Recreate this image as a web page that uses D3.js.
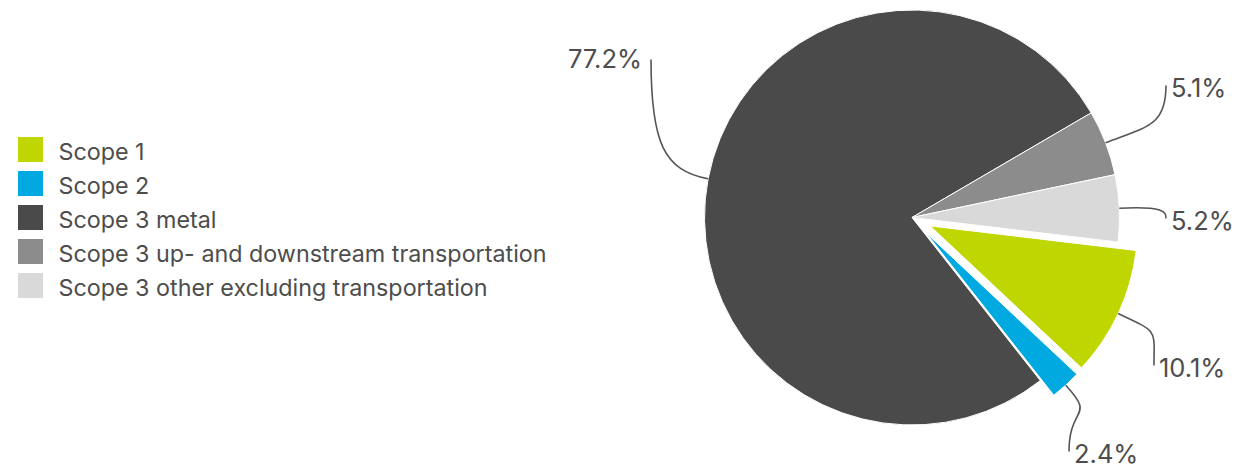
<!DOCTYPE html>
<html>
<head>
<meta charset="utf-8">
<script src="https://cdn.jsdelivr.net/npm/d3@7"></script>
<style>
  html, body { margin: 0; padding: 0; background: #ffffff; }
  svg { display: block; }
  text { font-family: Inter, "Noto Sans", Roboto, sans-serif; fill: #4d4d4d; }
</style>
</head>
<body>
<svg id="chart" width="1254" height="470"></svg>
<script>
// Emission shares by scope (percent)
const categories = [
  "Scope 1",
  "Scope 2",
  "Scope 3 metal",
  "Scope 3 up- and downstream transportation",
  "Scope 3 other excluding transportation"
];
const shares = [10.1, 2.4, 77.2, 5.1, 5.2];
const colors = ["#bfd600", "#00a9e0", "#4a4a4a", "#8c8c8c", "#d9d9d9"];
const explodedSlices = [true, true, false, false, false];

// Label placement (offset of the label text from the pie centre)
const labelLayout = [
  { dx: 247,  dy: 159,  anchor: "start" },
  { dx: 162,  dy: 245,  anchor: "start" },
  { dx: -270, dy: -150, anchor: "end" },
  { dx: 259,  dy: -121, anchor: "start" },
  { dx: 259,  dy: 12,   anchor: "start" }
];

const width = 1254, height = 470;
const cx = 912, cy = 217.5, radius = 207.5;
const explodeOffset = 20;
const startDeg = 96.8;

const svg = d3.select("#chart");

const data = categories.map((name, i) => ({
  name, value: shares[i], color: colors[i], exploded: explodedSlices[i], layout: labelLayout[i]
}));

const pie = d3.pie()
  .sort(null)
  .value(d => d.value)
  .startAngle(startDeg * Math.PI / 180)
  .endAngle(startDeg * Math.PI / 180 + 2 * Math.PI);

const arcs = pie(data);
const arc = d3.arc().innerRadius(0).outerRadius(radius);

// unit vector for a d3 angle (0 = 12 o'clock, clockwise)
const dir = a => [Math.sin(a), -Math.cos(a)];

const g = svg.append("g").attr("transform", `translate(${cx},${cy})`);

g.selectAll("path.slice")
  .data(arcs)
  .join("path")
  .attr("class", "slice")
  .attr("d", arc)
  .attr("fill", d => d.data.color)
  .attr("stroke", "#ffffff")
  .attr("stroke-width", 1)
  .attr("stroke-linejoin", "round")
  .attr("transform", d => {
    if (!d.data.exploded) return null;
    const [ux, uy] = dir((d.startAngle + d.endAngle) / 2);
    return `translate(${ux * explodeOffset},${uy * explodeOffset})`;
  });

// connectors and value labels
const fmt = d3.format(".1f");
arcs.forEach(d => {
  const mid = (d.startAngle + d.endAngle) / 2;
  const [ux, uy] = dir(mid);
  const off = d.data.exploded ? explodeOffset : 0;
  const p0 = [ux * (radius + off), uy * (radius + off)];
  const L = d.data.layout;
  const p3 = L.anchor === "start" ? [L.dx - 5, L.dy - 11] : [L.dx + 9, L.dy - 8];
  const reach = 45;
  const c1 = [p0[0] + ux * reach, p0[1] + uy * reach];
  const c2 = [p3[0], p3[1] + 0.7 * (p0[1] - p3[1])];
  const path = d3.path();
  path.moveTo(p0[0], p0[1]);
  path.bezierCurveTo(c1[0], c1[1], c2[0], c2[1], p3[0], p3[1]);
  g.append("path")
    .attr("d", path.toString())
    .attr("fill", "none")
    .attr("stroke", "#555555")
    .attr("stroke-width", 1.6);

  g.append("text")
    .attr("x", L.dx)
    .attr("y", L.dy)
    .attr("text-anchor", L.anchor)
    .style("font-size", "25.5px")
    .text(fmt(d.data.value) + "%");
});

// legend
const legend = svg.append("g").attr("transform", "translate(18,137)");
const rowH = 34;
const items = legend.selectAll("g.item")
  .data(data)
  .join("g")
  .attr("class", "item")
  .attr("transform", (d, i) => `translate(0,${i * rowH})`);

items.append("rect")
  .attr("width", 25)
  .attr("height", 25)
  .attr("fill", d => d.color);

items.append("text")
  .attr("x", 40.5)
  .attr("y", 22.5)
  .style("font-size", "23.3px")
  .text(d => d.name);
</script>
</body>
</html>
